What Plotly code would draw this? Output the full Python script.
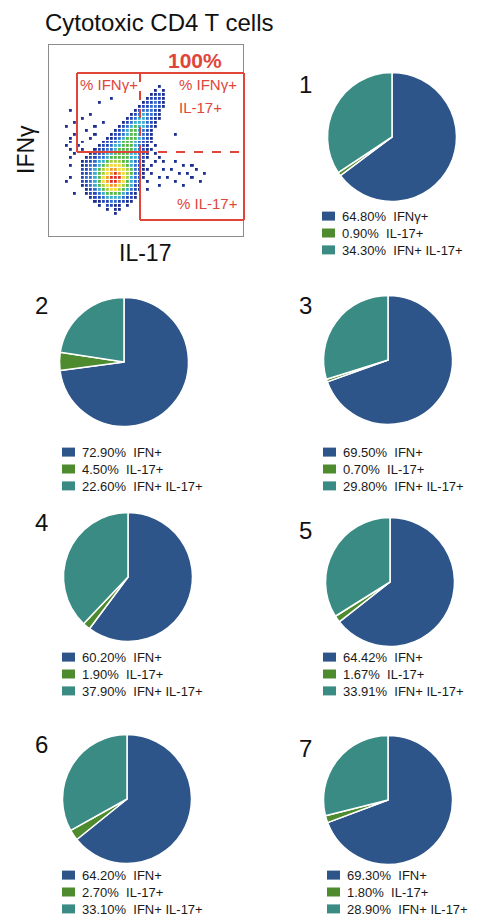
import plotly.graph_objects as go

W, H = 504, 924

# ---------------- data ----------------
SAMPLE_IDS = ["1", "2", "3", "4", "5", "6", "7"]
CATEGORIES = ["IFN+", "IL-17+", "IFN+ IL-17+"]
PIE1_CATEGORIES = ["IFNγ+", "IL-17+", "IFN+ IL-17+"]
IFN_POS = [64.80, 72.90, 69.50, 60.20, 64.42, 64.20, 69.30]
IL17_POS = [0.90, 4.50, 0.70, 1.90, 1.67, 2.70, 1.80]
DOUBLE_POS = [34.30, 22.60, 29.80, 37.90, 33.91, 33.10, 28.90]
SLICE_COLORS = ["#2d5589", "#4e8b2e", "#3a8b84"]

# flow-cytometry density (48 x 48 bins, row 0 = top / high IFNγ), levels 1..9
DENSITY_ROWS = [10, 11, 12, 13, 14, 15, 16, 17, 18, 19, 20, 21, 22, 23, 24, 25, 26,
                27, 28, 29, 30, 31, 32, 33, 34, 35, 36, 37, 38, 39, 40, 41, 42]
DENSITY_STARTS = [27, 26, 25, 24, 23, 22, 21, 20, 19, 18, 17, 16, 15, 14, 13, 12, 11,
                  10, 9, 8, 8, 8, 8, 8, 8, 8, 9, 9, 10, 11, 12, 14, 16]
DENSITY_LEVELS = [
    "1", "101", "1121", "12221", "122321", "1223321", "1233321", "12343321",
    "123443211", "123444321", "1234544321", "1234554321", "12234554321",
    "112345554321", "1223455543211", "1223445554321", "12233455554321",
    "122344555544321", "1223345555544321", "1223445666554321", "1233456777654321",
    "2234567887765321", "2234567898765321", "233457899976432", "223457899875432",
    "123456788765421", "12345677654321", "1223455554321", "122344443221",
    "1122332211", "10221101", "10110", "1",
]
SPARSE_ROWS = [13, 14, 16, 17, 18, 19, 19, 20, 20, 21, 22, 22, 22, 23, 23, 24, 24, 25, 25,
               25, 26, 26, 26, 27, 27, 28, 28, 29, 29, 29, 30, 30, 30, 30, 31, 31, 31, 31,
               32, 32, 32, 32, 33, 33, 33, 33, 33, 34, 34, 34, 34, 35, 35, 36, 37]
SPARSE_COLS = [15, 12, 5, 10, 8, 6, 13, 4, 11, 9, 6, 11, 31, 5, 10, 5, 8, 4, 7,
               26, 5, 8, 25, 6, 26, 5, 27, 26, 31, 28, 5, 25, 33, 35, 24, 30, 36, 28,
               25, 32, 34, 38, 5, 23, 29, 35, 27, 4, 24, 31, 37, 27, 33, 24, 6]
DENSITY_COLORS = ["#1c2f8f", "#2546b8", "#2f6fd0", "#37aed0", "#52b848",
                  "#a6cf3a", "#f0dc35", "#f39a2b", "#e5302a"]

# ---------------- helpers (layout) ----------------
def px(x, y):
    return x / W, 1 - y / H

N = 48
grid = [[None] * N for _ in range(N)]
for r, s, lv in zip(DENSITY_ROWS, DENSITY_STARTS, DENSITY_LEVELS):
    for i, ch in enumerate(lv):
        if ch != "0":
            grid[r][s + i] = int(ch)
for r, c in zip(SPARSE_ROWS, SPARSE_COLS):
    if grid[r][c] is None:
        grid[r][c] = 1

cs = [[i / 8, col] for i, col in enumerate(DENSITY_COLORS)]

fig = go.Figure()

fig.add_trace(go.Heatmap(
    z=grid, x0=0.5, dx=1, y0=0.5, dy=1,
    zmin=1, zmax=9, colorscale=cs, showscale=False,
    xgap=1.2, ygap=1.2, hoverinfo="skip", xaxis="x", yaxis="y",
))

# pies
PIE_CENTERS = [(392, 137), (124, 362), (388, 360), (128, 577), (390, 582), (127, 799), (388, 800)]
PIE_R = 64.5
for i, sid in enumerate(SAMPLE_IDS):
    cx, cy = PIE_CENTERS[i]
    cats = PIE1_CATEGORIES if i == 0 else CATEGORIES
    fig.add_trace(go.Pie(
        labels=cats,
        values=[IFN_POS[i], IL17_POS[i], DOUBLE_POS[i]],
        marker=dict(colors=SLICE_COLORS, line=dict(color="white", width=1.5)),
        sort=False, direction="clockwise", rotation=0,
        textinfo="none", hoverinfo="label+value", showlegend=False,
        domain=dict(x=[(cx - PIE_R) / W, (cx + PIE_R) / W],
                    y=[1 - (cy + PIE_R) / H, 1 - (cy - PIE_R) / H]),
        name="sample " + sid,
    ))

shapes = []
annotations = []
FONT = "Liberation Sans, Arial, sans-serif"
RED = "#e0453a"

def ann(x, y, text, size, color="#111", xanchor="center", bold=False, angle=0):
    xx, yy = px(x, y)
    if bold:
        text = "<b>" + text + "</b>"
    annotations.append(dict(x=xx, y=yy, xref="paper", yref="paper", text=text,
                            showarrow=False, xanchor=xanchor, yanchor="middle",
                            textangle=angle, align="left",
                            font=dict(family=FONT, size=size, color=color)))

def line(x0, y0, x1, y1, dash="solid"):
    a, b = px(x0, y0)
    c, d = px(x1, y1)
    shapes.append(dict(type="line", xref="paper", yref="paper", x0=a, y0=b, x1=c, y1=d,
                       line=dict(color=RED, width=2, dash=dash)))

# pie numbers & legends
NUM_POS = [(305, 84), (41, 305), (305, 305), (41, 522), (305, 530), (41, 744), (305, 748)]
LEG_X = [322, 62, 323, 62, 323, 62, 327]
LEG_YMID = [233, 469, 469, 674, 674, 892, 892]
LEG_FONT = 13
LEG_DY = LEG_FONT * 1.3
for i, sid in enumerate(SAMPLE_IDS):
    ann(NUM_POS[i][0], NUM_POS[i][1], sid, 24)
    cats = PIE1_CATEGORIES if i == 0 else CATEGORIES
    vals = [IFN_POS[i], IL17_POS[i], DOUBLE_POS[i]]
    rows = []
    for k in range(3):
        y = LEG_YMID[i] + (k - 1) * LEG_DY
        a, b = px(LEG_X[i], y - 4.5)
        c, d = px(LEG_X[i] + 13, y + 4.5)
        shapes.append(dict(type="rect", xref="paper", yref="paper", x0=a, y0=b, x1=c, y1=d,
                           fillcolor=SLICE_COLORS[k], line=dict(width=0)))
        rows.append(f"{vals[k]:.2f}%  {cats[k]}")
    ann(LEG_X[i] + 18, LEG_YMID[i] + 0.5, "<br>".join(rows), LEG_FONT, "#1a1a1a", xanchor="left")

# flow plot texts
ann(159, 23, "Cytotoxic CD4 T cells", 24)
ann(26, 150, "IFNγ", 23, angle=-90)
ann(145, 253, "IL-17", 23)

# gates
line(77, 73, 244, 73)
line(77, 73, 77, 152)
line(77, 152, 140, 152)
line(244, 73, 244, 220)
line(140, 152, 140, 220)
line(140, 220, 244, 220)
line(140, 73, 140, 152, dash="dash")
line(140, 152, 244, 152, dash="dash")

ann(195, 61, "100%", 21, RED, bold=True)
ann(78, 85, "% IFNγ+", 15, RED, xanchor="left")
ann(177, 85, "% IFNγ+", 15, RED, xanchor="left")
ann(177, 107, "IL-17+", 15, RED, xanchor="left")
ann(175, 203, "% IL-17+", 15, RED, xanchor="left")

ax_common = dict(showgrid=False, zeroline=False, showticklabels=False, ticks="",
                 showline=True, mirror=True, linecolor="#8c8c8c", linewidth=1, fixedrange=True)
fig.update_layout(
    width=W, height=H, margin=dict(l=0, r=0, t=0, b=0),
    paper_bgcolor="white", plot_bgcolor="white", showlegend=False,
    xaxis=dict(domain=[49 / W, 243 / W], range=[0, N], **ax_common),
    yaxis=dict(domain=[1 - 236 / H, 1 - 45 / H], range=[N, 0], **ax_common),
    shapes=shapes, annotations=annotations,
)

fig.write_html("out.html", config={"displayModeBar": False},
               post_script="document.body.style.margin='0';document.body.style.padding='0';")
